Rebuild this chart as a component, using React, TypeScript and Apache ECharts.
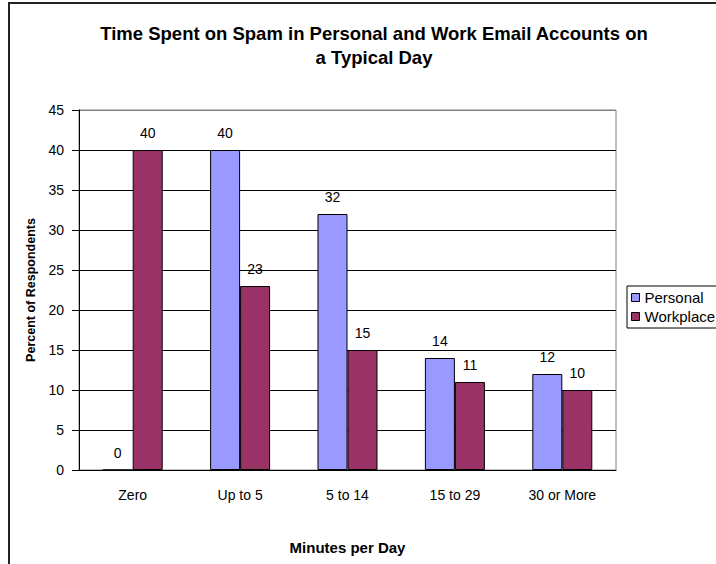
import React, { useEffect, useRef } from "react";
import * as echarts from "echarts";

const categories = ["Zero", "Up to 5", "5 to 14", "15 to 29", "30 or More"];
const personal = [0, 40, 32, 14, 12];
const workplace = [40, 23, 15, 11, 10];
const titleLines = [
  "Time Spent on Spam in Personal and Work Email Accounts on",
  "a Typical Day",
];

const FONT = "'Liberation Sans', Arial, sans-serif";

export default function App() {
  const ref = useRef<HTMLDivElement>(null);
  useEffect(() => {
    if (!ref.current) return;
    const chart = echarts.init(ref.current, null, { renderer: "svg" });
    const splitColors = [
      "#000", "#000", "#000", "#000", "#000", "#000", "#000", "#000", "#000", "#808080",
    ];
    const labelStyle = {
      show: true,
      position: "top",
      distance: 10,
      fontFamily: FONT,
      fontSize: 14,
      color: "#000",
    };
    chart.setOption({
      animation: false,
      backgroundColor: "#fff",
      textStyle: { fontFamily: FONT },
      title: {
        text: titleLines.join("\n"),
        left: 369,
        top: 16,
        textAlign: "center",
        textStyle: {
          fontFamily: FONT,
          fontSize: 18.5,
          fontWeight: "bold",
          color: "#000",
          lineHeight: 24,
        },
      },
      graphic: [
        {
          type: "rect",
          shape: { x: 9, y: 3, width: 800, height: 700 },
          style: { fill: "none", stroke: "#222", lineWidth: 2 },
          silent: true,
          z: 100,
        },
      ],
      legend: {
        orient: "vertical",
        left: 627,
        top: 286,
        itemWidth: 8,
        itemHeight: 8,
        itemGap: 4,
        icon: "rect",
        padding: [4, 30, 4, 4],
        borderColor: "#000",
        borderWidth: 1,
        textStyle: { fontFamily: FONT, fontSize: 15, color: "#000" },
        itemStyle: { borderColor: "#000", borderWidth: 1 },
        data: ["Personal", "Workplace"],
      },
      grid: {
        left: 79,
        right: 100,
        top: 110,
        bottom: 94,
        show: true,
        borderColor: "#808080",
        borderWidth: 1,
      },
      xAxis: {
        type: "category",
        data: categories,
        name: "Minutes per Day",
        nameLocation: "middle",
        nameGap: 70,
        nameTextStyle: { fontFamily: FONT, fontSize: 15, fontWeight: "bold", color: "#000" },
        axisLine: { lineStyle: { color: "#000", width: 1 } },
        axisTick: { show: false },
        axisLabel: { fontFamily: FONT, fontSize: 14, color: "#000", margin: 18 },
        splitLine: { show: false },
      },
      yAxis: {
        type: "value",
        min: 0,
        max: 45,
        interval: 5,
        name: "Percent of Respondents",
        nameLocation: "middle",
        nameGap: 40,
        nameTextStyle: { fontFamily: FONT, fontSize: 12.5, fontWeight: "bold", color: "#000" },
        axisLine: { show: true, lineStyle: { color: "#000", width: 1 } },
        axisTick: { show: true, length: 7, lineStyle: { color: "#000" } },
        axisLabel: { fontFamily: FONT, fontSize: 14, color: "#000", margin: 15 },
        splitLine: { show: true, lineStyle: { color: splitColors, width: 1 } },
      },
      series: [
        {
          name: "Personal",
          type: "bar",
          data: personal,
          barWidth: 30,
          barGap: "0%",
          itemStyle: { color: "#9999FF", borderColor: "#000", borderWidth: 1 },
          label: labelStyle,
        },
        {
          name: "Workplace",
          type: "bar",
          data: workplace,
          barWidth: 30,
          barGap: "0%",
          itemStyle: { color: "#993366", borderColor: "#000", borderWidth: 1 },
          label: labelStyle,
        },
      ],
    });
    return () => chart.dispose();
  }, []);
  return (
    <div
      ref={ref}
      style={{ position: "fixed", left: 0, top: 0, width: 716, height: 564 }}
    />
  );
}
